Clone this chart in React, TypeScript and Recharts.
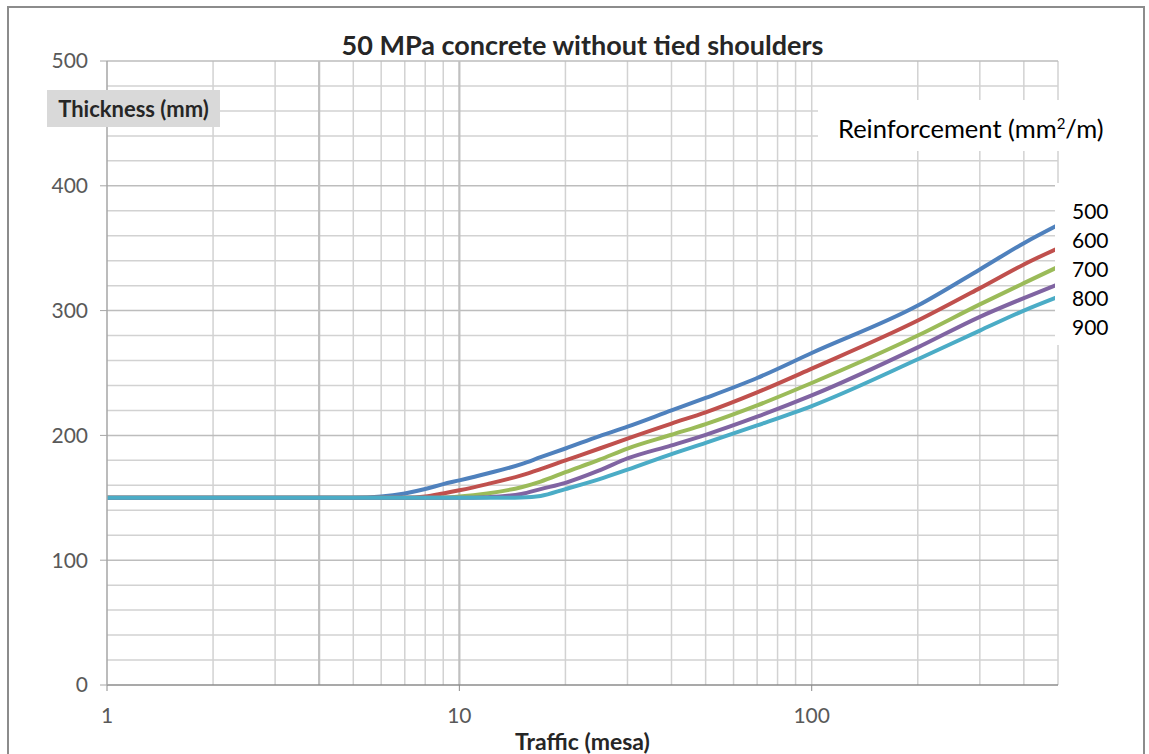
import { LineChart, Line, XAxis, YAxis, ReferenceLine } from 'recharts'

// traffic in million equivalent standard axles (mesa)
const traffic = [1, 5, 6, 7, 8, 9, 10, 12, 15, 17, 20, 25, 30, 40, 50, 70, 100, 200, 300, 400, 500]

// thickness (mm) per reinforcement (mm2/m)
const r500 = [150, 150, 151, 153.5, 157, 161, 164, 169.5, 177, 182.5, 189.5, 199.5, 207, 220, 230, 246, 266, 304, 333, 354, 368.5]
const r600 = [150, 150, 150, 150, 151, 153.5, 156, 161, 168, 173, 180, 189.5, 197.5, 209.5, 218.5, 234.5, 253.5, 292, 318, 337, 350]
const r700 = [150, 150, 150, 150, 150, 150.2, 151, 153.5, 158.5, 163, 170.5, 180.5, 189.5, 200.5, 209, 224, 242, 280, 305, 322, 335]
const r800 = [150, 150, 150, 150, 150, 150, 150, 150.5, 153, 157, 162, 172, 181.5, 192, 200.5, 215, 232, 270.5, 295, 310, 321]
const r900 = [150, 150, 150, 150, 150, 150, 150, 150, 150.3, 151.5, 157, 165, 172.5, 185, 194, 208, 223.5, 261, 284, 300, 311]

const series = [
  { key: 'r500', label: '500', values: r500, color: '#4F81BD' },
  { key: 'r600', label: '600', values: r600, color: '#C0504D' },
  { key: 'r700', label: '700', values: r700, color: '#9BBB59' },
  { key: 'r800', label: '800', values: r800, color: '#8064A2' },
  { key: 'r900', label: '900', values: r900, color: '#4BACC6' },
]

const xTicks = [1, 10, 100]
const yTicks = [0, 100, 200, 300, 400, 500]
const xMinorGrid = [2, 3, 5, 6, 7, 8, 9, 20, 30, 40, 50, 60, 70, 80, 90, 100, 200, 300, 400, 500]
const xMajorGrid = [4, 10]
const yMinorGrid = [20, 40, 60, 80, 120, 140, 160, 180, 220, 240, 260, 280, 320, 340, 360, 380, 420, 440, 460, 480]
const yMajorGrid = [100, 200, 300, 400, 500]

const data = traffic.map((t, i) => {
  const row: Record<string, number> = { t }
  series.forEach((s) => {
    row[s.key] = s.values[i]
  })
  return row
})

const font = 'Lato, "Open Sans", sans-serif'
const tickStyle = { fill: '#595959', fontSize: 21, fontFamily: font }

export default function App() {
  return (
    <div
      style={{
        position: 'absolute',
        left: 0,
        top: 0,
        width: 1149,
        height: 754,
        overflow: 'hidden',
        background: '#fff',
        fontFamily: font,
      }}
    >
      <div
        style={{
          position: 'absolute',
          left: 7,
          top: 6,
          width: 1134,
          height: 800,
          border: '2px solid #8c8c8c',
        }}
      />
      <div style={{ position: 'absolute', left: 0, top: 0 }}>
        <LineChart width={1149} height={754} data={data} margin={{ top: 61, right: 91, left: 47, bottom: 29 }}>
          {yMinorGrid.map((v) => (
            <ReferenceLine key={'ym' + v} y={v} stroke="#d2d2d2" strokeWidth={1.5} />
          ))}
          {xMinorGrid.map((v) => (
            <ReferenceLine key={'xm' + v} x={v} stroke="#d2d2d2" strokeWidth={1.5} />
          ))}
          {yMajorGrid.map((v) => (
            <ReferenceLine key={'yM' + v} y={v} stroke="#bdbdbd" strokeWidth={1.5} />
          ))}
          {xMajorGrid.map((v) => (
            <ReferenceLine key={'xM' + v} x={v} stroke="#c0c0c0" strokeWidth={2.2} />
          ))}
          <XAxis
            dataKey="t"
            type="number"
            scale="log"
            domain={[1, 500]}
            ticks={xTicks}
            allowDataOverflow
            height={40}
            tick={tickStyle}
            tickSize={6}
            tickMargin={17}
            stroke="#8c8c8c"
            axisLine={{ stroke: '#8c8c8c', strokeWidth: 1.5 }}
          />
          <YAxis
            type="number"
            domain={[0, 500]}
            ticks={yTicks}
            width={60}
            tick={tickStyle}
            tickSize={7}
            tickMargin={12}
            stroke="#a6a6a6"
            axisLine={{ stroke: '#a6a6a6', strokeWidth: 1.5 }}
          />
          {series.map((s) => (
            <Line
              key={s.key}
              dataKey={s.key}
              type="monotone"
              stroke={s.color}
              strokeWidth={4}
              dot={false}
              isAnimationActive={false}
            />
          ))}
        </LineChart>
      </div>

      <div
        style={{
          position: 'absolute',
          left: 0,
          width: 1149,
          top: 28,
          textAlign: 'center',
          fontSize: 27,
          fontWeight: 700,
          color: '#262626',
          paddingLeft: 16,
          boxSizing: 'border-box',
        }}
      >
        50 MPa concrete without tied shoulders
      </div>

      <div
        style={{
          position: 'absolute',
          left: 47,
          top: 90,
          width: 173,
          height: 37,
          background: '#d9d9d9',
          fontSize: 22,
          fontWeight: 700,
          color: '#262626',
          lineHeight: '37px',
          textAlign: 'center',
        }}
      >
        Thickness (mm)
      </div>

      <div
        style={{
          position: 'absolute',
          left: 818,
          top: 100,
          width: 300,
          height: 51,
          background: '#fff',
          fontSize: 25.5,
          color: '#000',
          lineHeight: '56px',
          paddingLeft: 20,
          boxSizing: 'border-box',
          whiteSpace: 'nowrap',
        }}
      >
        Reinforcement (mm<sup style={{ fontSize: 15, verticalAlign: 'super', lineHeight: 0 }}>2</sup>/m)
      </div>

      <div
        style={{
          position: 'absolute',
          left: 1055,
          top: 183,
          width: 70,
          height: 162,
          background: '#fff',
        }}
      >
        {series.map((s, i) => (
          <div
            key={s.key}
            style={{
              position: 'absolute',
              left: 17,
              top: 16 + i * 29,
              fontSize: 21,
              lineHeight: '24px',
              color: '#000',
            }}
          >
            {s.label}
          </div>
        ))}
      </div>

      <div
        style={{
          position: 'absolute',
          left: 0,
          width: 1149,
          top: 727,
          textAlign: 'center',
          fontSize: 23,
          fontWeight: 700,
          color: '#262626',
          paddingLeft: 16,
          boxSizing: 'border-box',
        }}
      >
        Traffic (mesa)
      </div>
    </div>
  )
}
